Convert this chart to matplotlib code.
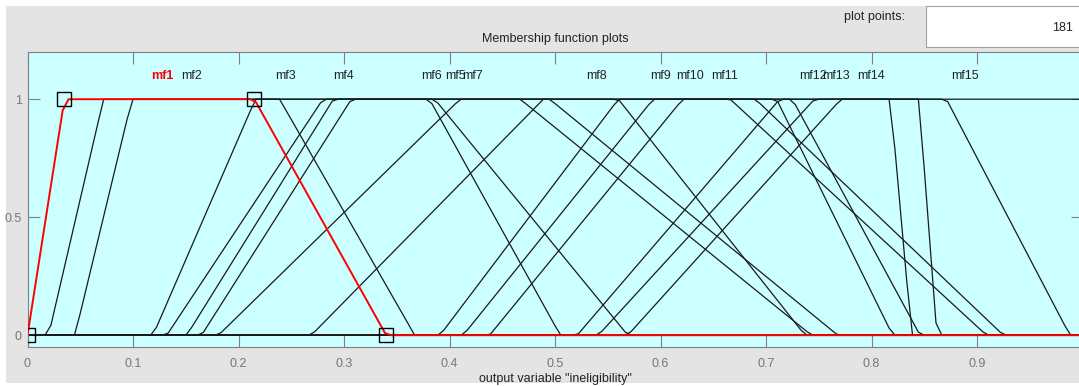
import numpy as np
import matplotlib
matplotlib.use('Agg')
import matplotlib.pyplot as plt
from matplotlib.patches import Rectangle

plt.rcParams['font.family'] = ['Liberation Sans', 'DejaVu Sans']

# trapezoid parameters [a, b, c, d] of each output membership function
mf_names = ['mf1', 'mf2', 'mf3', 'mf4', 'mf5', 'mf6', 'mf7', 'mf8',
            'mf9', 'mf10', 'mf11', 'mf12', 'mf13', 'mf14', 'mf15']
mf_params = [
    [0.000, 0.035, 0.215, 0.340],
    [0.020, 0.072, 0.239, 0.367],
    [0.045, 0.099, 0.386, 0.569],
    [0.119, 0.216, 0.381, 0.505],
    [0.165, 0.307, 0.495, 0.768],
    [0.151, 0.290, 0.467, 0.743],
    [0.132, 0.280, 0.560, 0.737],
    [0.181, 0.410, 0.666, 0.909],
    [0.269, 0.489, 0.710, 0.820],
    [0.391, 0.560, 0.690, 0.925],
    [0.413, 0.593, 0.725, 0.846],
    [0.438, 0.621, 0.871, 0.988],
    [0.521, 0.713, 0.818, 0.838],
    [0.541, 0.746, 0.845, 0.862],
    [0.569, 0.771, 1.000, 1.200],
]
selected = 0
plot_points = 181
x_ticks = [0, 0.1, 0.2, 0.3, 0.4, 0.5, 0.6, 0.7, 0.8, 0.9, 1.0]
x_ticklabels = ['0', '0.1', '0.2', '0.3', '0.4', '0.5', '0.6', '0.7', '0.8', '0.9', '']
y_ticks = [0, 0.5, 1]
y_ticklabels = ['0', '0.5', '1']
x_label = 'output variable "ineligibility"'

W, H = 1079, 386
fig = plt.figure(figsize=(W / 100, H / 100), dpi=100)
fig.patch.set_facecolor('white')

def fx(px):
    return px / W

def fy(py):
    return 1 - py / H

def label_x(xs, ys):
    # name goes over the middle of the plateau (rounded half up)
    idx = np.where(ys == ys.max())[0]
    return xs[int(np.floor(idx.mean() + 0.5))]

# grey panel behind everything
fig.patches.append(Rectangle((fx(6), fy(383)), fx(W), fy(6) - fy(383),
                             transform=fig.transFigure, facecolor='#e4e4e4',
                             edgecolor='none', zorder=-10))
# plot points edit box
fig.patches.append(Rectangle((fx(926), fy(47)), fx(160), fy(6) - fy(47),
                             transform=fig.transFigure, facecolor='white',
                             edgecolor='#a0a0a0', lw=0.8, zorder=-5))
fig.text(fx(905), fy(17), 'plot points:', ha='right', va='center', fontsize=9, color='#222222')
fig.text(fx(1073), fy(28), str(plot_points), ha='right', va='center', fontsize=9, color='#222222')

ax = fig.add_axes([fx(27.5), fy(347), 1055 / W, (347 - 52) / H])
ax.set_facecolor('#ccffff')
ax.set_xlim(0, 1)
ax.set_ylim(-0.05, 1.2)

xs = np.linspace(0, 1, plot_points)
for i, (name, p) in enumerate(zip(mf_names, mf_params)):
    if i == selected:
        continue
    ys = np.interp(xs, p, [0, 1, 1, 0])
    ax.plot(xs, ys, color='#1a1a1a', lw=0.9, zorder=2)
    ax.text(label_x(xs, ys), 1.1, name, ha='center', va='center', fontsize=9, color='#222222')

# the selected function on top, with its vertex handles
p = mf_params[selected]
ys = np.interp(xs, p, [0, 1, 1, 0])
ax.plot(xs, ys, color='red', lw=1.4, zorder=4)
ax.text(label_x(xs, ys), 1.1, mf_names[selected], ha='center', va='center', fontsize=9,
        color='red', fontweight='bold')
ax.plot(p, [0, 1, 1, 0], ls='none', marker='s', ms=10, mfc='none', mec='black',
        mew=1, zorder=5)

ax.set_xticks(x_ticks)
ax.set_xticklabels(x_ticklabels)
ax.set_yticks(y_ticks)
ax.set_yticklabels(y_ticklabels)
ax.tick_params(direction='in', top=True, right=True, length=8.5, width=0.8,
               color='#808080', labelcolor='#777777', labelsize=9)
ax.tick_params(axis='y', pad=4)
ax.tick_params(axis='x', pad=8)
for s in ax.spines.values():
    s.set_color('#808080')
    s.set_linewidth(0.8)

ax.set_title('Membership function plots', fontsize=9, color='#222222', pad=7)
ax.set_xlabel(x_label, fontsize=9, color='#222222', labelpad=2)

fig.savefig('out.png', dpi=100)
